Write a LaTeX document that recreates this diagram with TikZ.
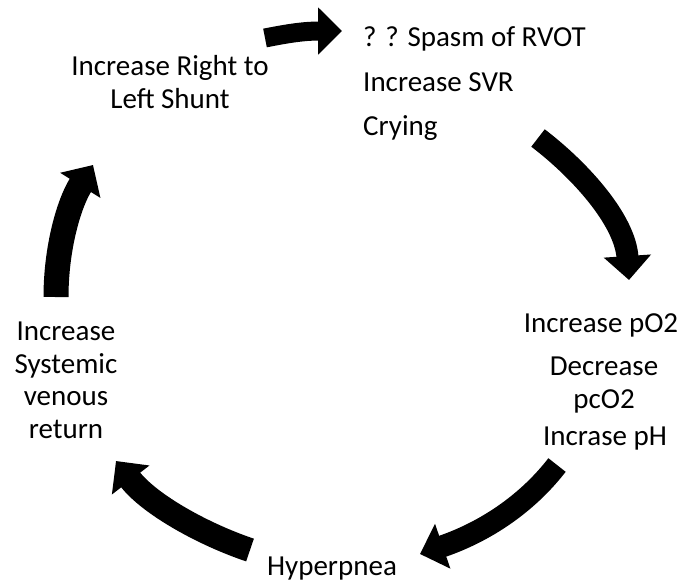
\documentclass[tikz,border=0pt]{standalone}
\usepackage{fontspec}
\setmainfont{Carlito}
\usetikzlibrary{arrows.meta}
\begin{document}
\begin{tikzpicture}[x=1pt,y=-1pt,
  lbl/.style={inner sep=0pt, font=\fontsize{29}{33}\selectfont, align=center, anchor=base},
  lbll/.style={lbl, anchor=base west, align=left},
  fat/.style={draw=black, line width=#1, -{Triangle[length=24pt,width=46pt]}},
]
\useasboundingbox (0,0) rectangle (687,582);
% labels (anchor base = baseline of the last line)
\node[lbl] (shunt) at (170,108) {Increase Right to\\Left Shunt};
\node[lbll] (spasm) at (363,46) {? ? Spasm of RVOT};
\node[lbll] (svr) at (363,91) {Increase SVR};
\node[lbll] (cry) at (363,135) {Crying};
\node[lbl] (po2) at (601,332) {Increase pO2};
\node[lbl] (pco2) at (604,408) {Decrease\\pcO2};
\node[lbl] (ph) at (605,445) {Incrase pH};
\node[lbl] (hyp) at (332,575) {Hyperpnea};
\node[lbl, font=\fontsize{29}{32.5}\selectfont] (ven) at (66,438) {Increase\\Systemic\\venous\\return};
% arrow ends
\coordinate (t1) at (265,38);  \coordinate (h1) at (342,31);
\coordinate (t2) at (538,138); \coordinate (h2) at (629,280);
\coordinate (t3) at (557,465); \coordinate (h3) at (420,554);
\coordinate (t4) at (250,550); \coordinate (h4) at (116,461);
\coordinate (t5) at (56,297);  \coordinate (h5) at (93,165);
% arrows
\draw[fat=19pt] (t1) .. controls (290,33) and (305,31) .. (h1);
\draw[fat=22pt] (t2) .. controls (580,170) and (625,220) .. (h2);
\draw[fat=22pt] (t3) .. controls (530,500) and (490,530) .. (h3);
\draw[fat=24pt] (t4) .. controls (205,535) and (150,505) .. (h4);
\draw[fat=25pt] (t5) .. controls (56,250) and (68,205) .. (h5);
\end{tikzpicture}
\end{document}
